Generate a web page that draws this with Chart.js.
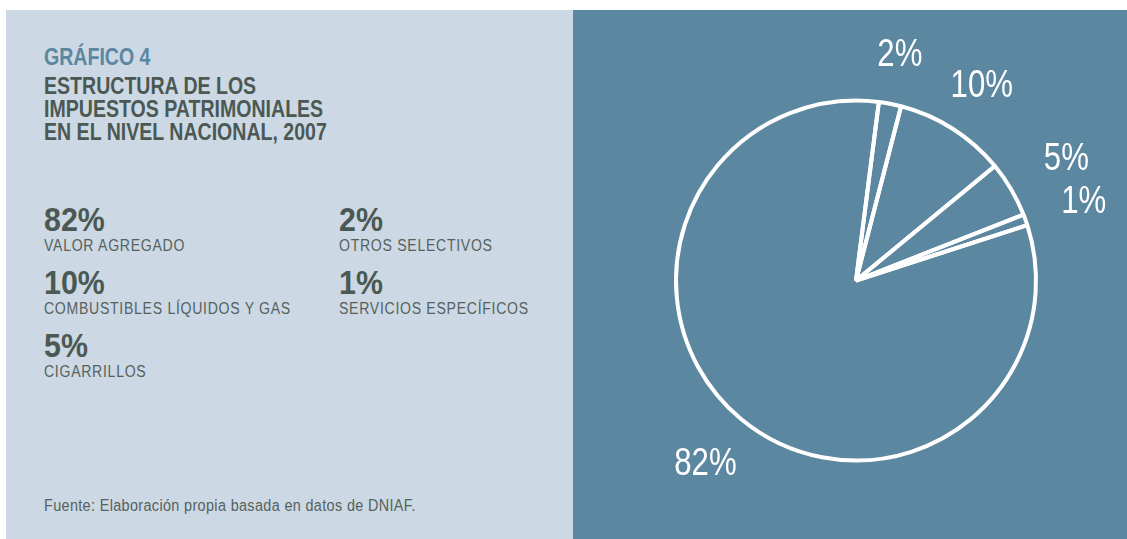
<!DOCTYPE html>
<html lang="es">
<head>
<meta charset="utf-8">
<title>Gráfico 4</title>
<script src="https://cdn.jsdelivr.net/npm/chart.js@4/dist/chart.umd.min.js"></script>
<style>
  html, body { margin: 0; padding: 0; background: #fff; }
  body { width: 1127px; height: 539px; position: relative; overflow: hidden;
         font-family: "Liberation Sans", Arial, sans-serif; }
  #left { position: absolute; left: 6px; top: 10px; width: 567px; height: 529px; background: #ccd8e3; }
  #right { position: absolute; left: 573px; top: 10px; width: 554px; height: 529px; background: #5c87a1; }
  #right canvas { display: block; }
  /* letra condensada: se comprime en horizontal */
  .narrow { transform-origin: 0 0; white-space: nowrap; }
  .head { position: absolute; left: 38px; font-size: 23px; line-height: 23px; font-weight: bold;
          transform: scaleX(0.85); }
  #kicker { top: 36px; color: #5b87a1; }
  #title { top: 65px; color: #4b5853; }
  #legend { position: absolute; left: 38px; top: 198px; display: grid;
            grid-template-columns: 295px auto; grid-template-rows: repeat(3, 63px);
            grid-auto-flow: column; }
  .num { font-size: 33px; line-height: 24px; font-weight: bold; color: #4b5853; transform: scaleX(0.92); }
  .lab { font-size: 16px; line-height: 20px; margin-top: 4px; letter-spacing: 0.8px; color: #56625d;
         transform: scaleX(0.88); }
  #source { position: absolute; left: 38px; top: 487px; font-size: 16px; line-height: 18px;
            letter-spacing: 0.4px; color: #56625d; transform: scaleX(0.9); }
</style>
</head>
<body>
<div id="left">
  <div id="kicker" class="head narrow">GRÁFICO 4</div>
  <div id="title" class="head narrow">ESTRUCTURA DE LOS<br>IMPUESTOS PATRIMONIALES<br>EN EL NIVEL NACIONAL, 2007</div>
  <div id="legend"></div>
  <div id="source" class="narrow">Fuente: Elaboración propia basada en datos de DNIAF.</div>
</div>
<div id="right"><canvas id="pie" width="554" height="529"></canvas></div>
<script>
// Estructura de los impuestos, 2007 (% del total), en el orden del gráfico
const categories = ['OTROS SELECTIVOS', 'COMBUSTIBLES LÍQUIDOS Y GAS', 'CIGARRILLOS', 'SERVICIOS ESPECÍFICOS', 'VALOR AGREGADO'];
const shares = [2, 10, 5, 1, 82];
const pctLabels = ['2%', '10%', '5%', '1%', '82%'];

// leyenda de la izquierda, de mayor a menor
const legend = document.getElementById('legend');
categories
  .map((c, i) => ({ c, v: shares[i], t: pctLabels[i] }))
  .sort((a, b) => b.v - a.v)
  .forEach(d => {
    const item = document.createElement('div');
    item.innerHTML = '<div class="num narrow">' + d.t + '</div><div class="lab narrow">' + d.c + '</div>';
    legend.appendChild(item);
  });

// porcentajes fuera de cada porción
const outsideLabels = {
  id: 'outsideLabels',
  afterDatasetsDraw(chart) {
    const ctx = chart.ctx;
    const arcs = chart.getDatasetMeta(0).data;
    const size = 38, sx = 0.82, capH = size * 0.716, gap = 38;
    ctx.save();
    ctx.font = size + 'px "Liberation Sans", Arial, sans-serif';
    ctx.fillStyle = '#ffffff';
    ctx.textAlign = 'center';
    ctx.textBaseline = 'alphabetic';
    arcs.forEach((arc, i) => {
      const p = arc.getProps(['x', 'y', 'startAngle', 'endAngle', 'outerRadius'], true);
      const mid = (p.startAngle + p.endAngle) / 2;
      const dx = Math.cos(mid), dy = Math.sin(mid);
      const text = pctLabels[i];
      const w = ctx.measureText(text).width * sx;
      const edge = Math.min(Math.abs(dx) > 1e-6 ? (w / 2) / Math.abs(dx) : Infinity,
                            Math.abs(dy) > 1e-6 ? (capH / 2) / Math.abs(dy) : Infinity);
      const d = p.outerRadius + gap + edge;
      ctx.save();
      ctx.translate(p.x + dx * d, p.y + dy * d + capH / 2);
      ctx.scale(sx, 1);
      ctx.fillText(text, 0, 0);
      ctx.restore();
    });
    ctx.restore();
  }
};

new Chart(document.getElementById('pie'), {
  type: 'pie',
  data: {
    labels: categories,
    datasets: [{
      data: shares,
      backgroundColor: 'rgba(0,0,0,0)',
      borderColor: '#ffffff',
      borderWidth: 4,
      hoverOffset: 0
    }]
  },
  options: {
    responsive: false,
    animation: false,
    events: [],
    rotation: 7.3,
    layout: { padding: { left: 101, right: 89, top: 88, bottom: 76 } },
    plugins: {
      legend: { display: false },
      tooltip: { enabled: false }
    }
  },
  plugins: [outsideLabels]
});
</script>
</body>
</html>
